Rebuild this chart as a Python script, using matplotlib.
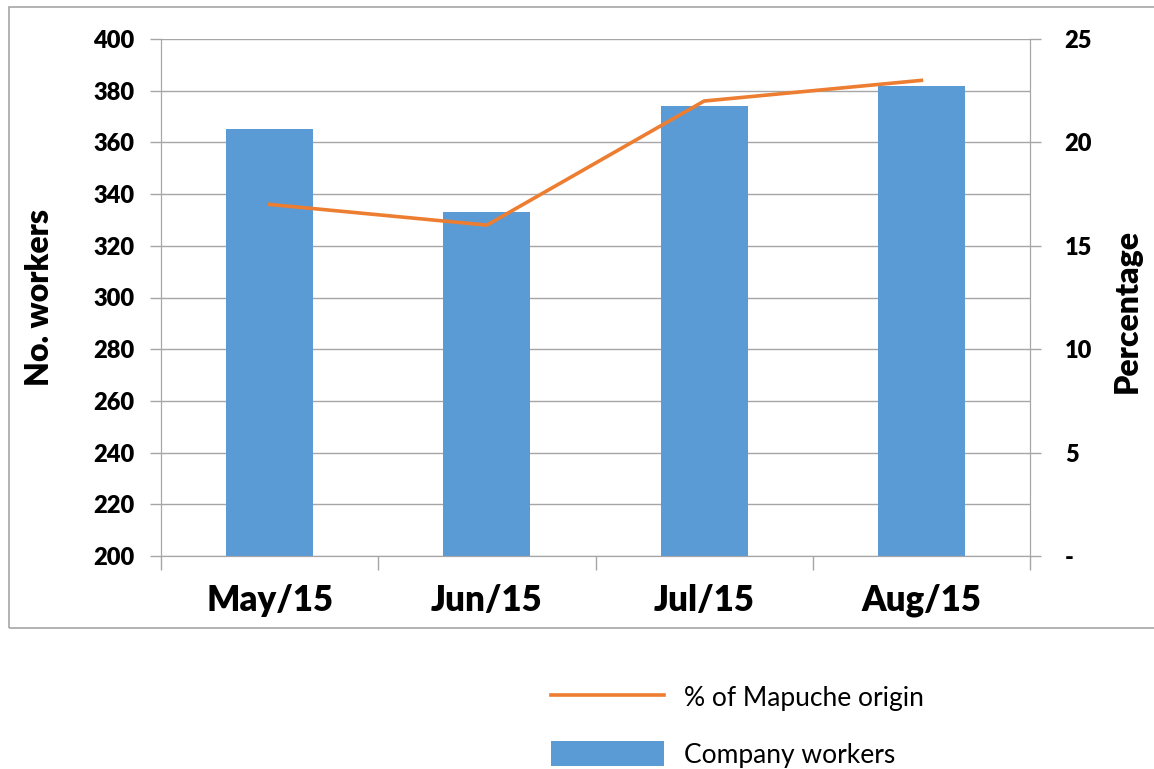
import matplotlib
matplotlib.use("Agg")
import matplotlib.pyplot as plt
from matplotlib.patches import Rectangle

categories = ["May/15", "Jun/15", "Jul/15", "Aug/15"]
workers = [365, 333, 374, 382]
mapuche_pct = [17, 16, 22, 23]
left_ticks = [200, 220, 240, 260, 280, 300, 320, 340, 360, 380, 400]
right_ticks = [0, 5, 10, 15, 20, 25]
right_labels = ["-", "5", "10", "15", "20", "25"]

BLUE = "#5B9BD5"
ORANGE = "#ED7D31"
GRID = "#A6A6A6"
FONT = "Lato"

fig = plt.figure(figsize=(11.54, 7.69), dpi=100)
fig.patch.set_facecolor("white")

ax = fig.add_axes([161/1154, 1 - 556/769, 869/1154, 517/769])
ax2 = ax.twinx()

x = list(range(len(categories)))
bars = ax.bar(x, workers, width=0.4, color=BLUE, zorder=3, label="Company workers")
line, = ax2.plot(x, mapuche_pct, color=ORANGE, lw=2.6, zorder=4, label="% of Mapuche origin")

ax.set_xlim(-0.5, 3.5)
ax.set_ylim(200, 400)
ax2.set_ylim(0, 25)
ax.set_yticks(left_ticks)
ax.set_yticklabels([str(v) for v in left_ticks], fontfamily=FONT, fontweight="heavy", fontsize=17)
ax2.set_yticks(right_ticks)
ax2.set_yticklabels(right_labels, fontfamily=FONT, fontweight="heavy", fontsize=17)

ax.set_xticks(x)
ax.set_xticklabels(categories, fontfamily=FONT, fontweight="heavy", fontsize=25)
ax.set_xticks([-0.5, 0.5, 1.5, 2.5, 3.5], minor=True)
ax.tick_params(axis="x", which="major", length=0, pad=20)
ax.tick_params(axis="x", which="minor", length=10, color=GRID, width=1)
ax.tick_params(axis="y", which="major", length=8, color=GRID, width=1, pad=11)
ax2.tick_params(axis="y", which="major", length=8, color=GRID, width=1, pad=17)

ax.grid(axis="y", color=GRID, lw=1, zorder=0)
ax.set_axisbelow(True)
for a in (ax, ax2):
    a.spines["top"].set_visible(False)
    a.spines["left"].set_color(GRID)
    a.spines["right"].set_color(GRID)
    a.spines["bottom"].set_color(GRID)

ax.set_ylabel("No. workers", fontfamily=FONT, fontweight="heavy", fontsize=23)
ax.yaxis.set_label_coords(-0.123, 0.5)
ax2.set_ylabel("Percentage", fontfamily=FONT, fontweight="heavy", fontsize=23, rotation=90)
ax2.yaxis.set_label_coords(1.0955, 0.474)

# chart frame
fig.patches.append(Rectangle((9/1154, 1 - 628/769), 1.2, (628 - 7)/769,
                             transform=fig.transFigure, fill=False,
                             edgecolor=GRID, lw=1.2))

fig.legend(handles=[line, bars], labels=["% of Mapuche origin", "Company workers"],
           loc="upper left", bbox_to_anchor=(527/1154, 1 - 661/769),
           frameon=False, prop={"family": FONT, "size": 19},
           handlelength=4.3, handleheight=1.05, labelspacing=1.15, handletextpad=0.75)

fig.savefig("out.png", dpi=100)
